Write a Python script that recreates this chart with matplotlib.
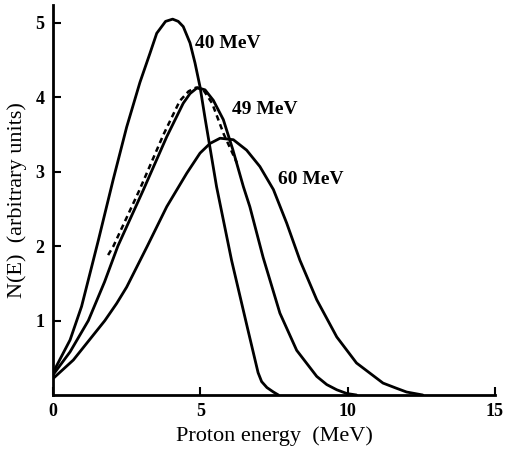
import matplotlib
matplotlib.use('Agg')
import matplotlib.pyplot as plt

# values (proton energy in MeV, N(E) arbitrary units)
e40 = [0, 0.58, 0.97, 1.31, 1.54, 2.04, 2.5, 2.95, 3.29, 3.52, 3.82, 4.06, 4.25, 4.42, 4.65, 4.82,
       4.99, 5.16, 5.55, 6.06, 6.6, 6.96, 7.08, 7.26, 7.48, 7.65]
n40 = [0.3, 0.74, 1.19, 1.72, 2.08, 2.89, 3.6, 4.2, 4.59, 4.86, 5.02, 5.05, 5.02, 4.95, 4.73, 4.46,
       4.14, 3.72, 2.8, 1.81, 0.9, 0.3, 0.18, 0.1, 0.04, 0.0]

e49 = [0, 0.58, 1.2, 1.75, 2.2, 3.06, 3.86, 4.42, 4.65, 4.9, 5.16, 5.44, 5.78, 6.1, 6.46, 6.68, 7.13,
       7.7, 8.27, 8.95, 9.29, 9.63, 9.97, 10.3]
n49 = [0.27, 0.58, 1.0, 1.52, 2.0, 2.75, 3.47, 3.92, 4.05, 4.13, 4.1, 3.96, 3.7, 3.3, 2.8, 2.53, 1.85,
       1.1, 0.6, 0.25, 0.14, 0.07, 0.02, 0.0]

e60 = [0, 0.69, 1.76, 2.16, 2.5, 3.2, 3.86, 4.54, 4.99, 5.33, 5.67, 6.12, 6.57, 7.02, 7.48, 7.93, 8.38,
       8.95, 9.63, 10.3, 11.2, 11.66, 12.0, 12.55]
n60 = [0.22, 0.47, 1.0, 1.23, 1.45, 2.0, 2.53, 2.98, 3.25, 3.38, 3.45, 3.43, 3.29, 3.07, 2.76, 2.31, 1.81,
       1.28, 0.78, 0.43, 0.16, 0.09, 0.04, 0.0]

# dashed comparison curve near the 49 MeV spectrum
e_dash = [1.87, 2.05, 2.93, 3.75, 4.3, 4.6, 4.85, 5.1, 5.4, 5.8, 6.24]
n_dash = [1.88, 2.0, 2.75, 3.5, 3.95, 4.08, 4.13, 4.1, 3.92, 3.5, 3.12]

labels = ['40 MeV', '49 MeV', '60 MeV']
label_pos = [(4.82, 4.72), (6.07, 3.83), (7.63, 2.89)]

xticks = [0, 5, 10, 15]
yticks = [1, 2, 3, 4, 5]

plt.rcParams['font.family'] = ['Liberation Serif', 'DejaVu Serif']

fig = plt.figure(figsize=(5.18, 4.5), dpi=100)
ax = fig.add_axes([53 / 518, 55 / 450, 442 / 518, 390 / 450])

lw = 2.0
for x, y in [(e40, n40), (e49, n49), (e60, n60)]:
    ax.plot(x, y, color='black', lw=lw, solid_joinstyle='round', solid_capstyle='round')
ax.plot(e_dash, n_dash, color='black', lw=1.8, linestyle=(0, (2.2, 1.6)))

for txt, (x, y) in zip(labels, label_pos):
    ax.text(x, y, txt, fontsize=14, fontweight='bold', va='center', ha='left')

ax.set_xlim(0, 15)
ax.set_ylim(0, 5.24)
ax.set_xticks(xticks)
ax.set_yticks(yticks)
ax.tick_params(direction='in', length=6, width=1.5, labelsize=13, pad=6)
for lab in ax.get_xticklabels() + ax.get_yticklabels():
    lab.set_fontweight('bold')

for s in ['top', 'right']:
    ax.spines[s].set_visible(False)
for s in ['left', 'bottom']:
    ax.spines[s].set_linewidth(2.0)

ax.set_xlabel('Proton energy  (MeV)', fontsize=16, labelpad=4)
ax.set_ylabel('N(E)  (arbitrary units)', fontsize=16, labelpad=6)

fig.savefig('out.png', dpi=100)
